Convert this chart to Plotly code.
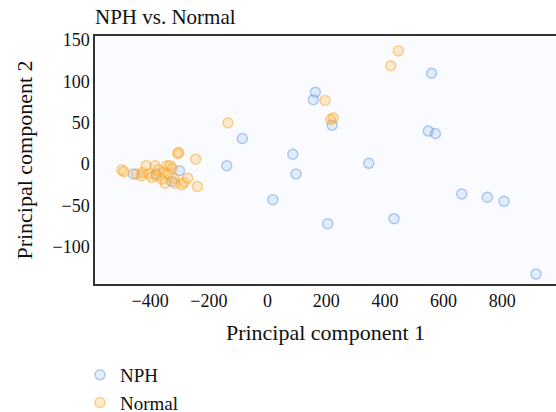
import plotly.graph_objects as go

nph_x = [163, 156, 220, -86, -139, 86, 97, 18, 205, 345, 431, 559, 548, 572, 662, 749, 806, 915, -300, -326, -457, -380]
nph_y = [87, 78, 47, 31, -2, 12, -12, -43, -72, 1, -66, 110, 40, 37, -36, -40, -45, -133, -8, -21, -12, -12]

normal_x = [-497, -490, -446, -430, -425, -414, -405, -395, -383, -378, -372, -360, -355, -349, -343,
            -338, -332, -325, -320, -315, -306, -303, -292, -285, -272, -245, -239, -135, 196, 224, 215, 420, 446]
normal_y = [-7, -9, -12, -14, -10, -2, -12, -16, -2, -14, -7, -18, -10, -23, -2,
            -12, -2, -5, -17, -23, 13, 14, -25, -22, -17, 6, -27, 50, 77, 56, 54, 119, 137]

FONT = "Liberation Serif"
W, H = 556, 412
ML, MT = 60, 36
PW, PH = W - ML, H - MT

fig = go.Figure()
fig.add_trace(go.Scatter(
    x=nph_x, y=nph_y, mode="markers", name="NPH",
    marker=dict(size=10, color="rgba(130,180,235,0.22)",
                line=dict(width=1.5, color="rgba(80,130,215,0.40)")),
))
fig.add_trace(go.Scatter(
    x=normal_x, y=normal_y, mode="markers", name="Normal",
    marker=dict(size=10, color="rgba(255,180,70,0.26)",
                line=dict(width=1.5, color="rgba(250,160,30,0.48)")),
))

fig.update_layout(
    width=W, height=H,
    margin=dict(l=ML, r=0, t=MT, b=0, autoexpand=False),
    paper_bgcolor="white",
    plot_bgcolor="#f9fbfe",
    font=dict(family=FONT, size=18, color="#111"),
    title=dict(text="NPH vs. Normal", x=95 / W, xref="container", xanchor="left",
               y=1 - 17 / H, yref="container", yanchor="middle",
               font=dict(size=21, family=FONT)),
    xaxis=dict(domain=[(95 - ML) / PW, 1],
               range=[-588, 983], tickvals=[-400, -200, 0, 200, 400, 600, 800],
               showgrid=False, zeroline=False, showline=True, linecolor="#333",
               linewidth=1.5, mirror=True, ticks="", automargin=False,
               title=dict(text="Principal component 1", standoff=14)),
    yaxis=dict(domain=[(H - 284) / PH, 1],
               range=[-145, 155], tickvals=[-100, -50, 0, 50, 100, 150],
               showgrid=False, zeroline=False, showline=True, linecolor="#333",
               linewidth=1.5, mirror=True, ticks="", automargin=False,
               title=dict(text="Principal component 2", standoff=14)),
    legend=dict(orientation="v", x=(80 - ML) / PW, xanchor="left",
                y=(H - 356) / PH, yanchor="top",
                font=dict(size=19, family=FONT), bgcolor="rgba(0,0,0,0)"),
    showlegend=True,
)

post = ("document.body.style.margin='0';document.body.style.padding='0';"
        "document.body.style.overflow='hidden';"
        "Plotly.relayout(document.getElementById('{plot_id}'), {width:556, height:412});")

fig.write_html("out.html", post_script=post, config={"displayModeBar": False})
